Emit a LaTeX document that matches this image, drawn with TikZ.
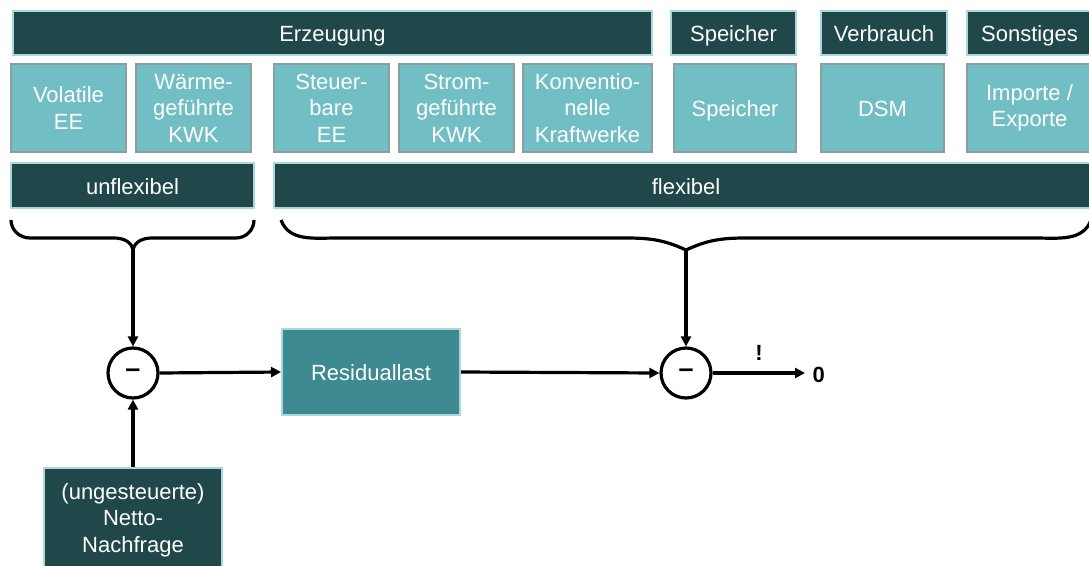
\documentclass[tikz,border=0pt]{standalone}
\usepackage{fontspec}
\setmainfont{Liberation Sans}
\usetikzlibrary{arrows.meta}
\definecolor{darkteal}{HTML}{20474A}
\definecolor{paleteal}{HTML}{A8D8DC}
\definecolor{lightteal}{HTML}{71BEC5}
\definecolor{greyedge}{HTML}{8C9EA0}
\definecolor{midteal}{HTML}{3D8A90}
\tikzset{
  box/.style={rectangle, line width=2pt, text=white, align=center, inner sep=0pt,
    font=\fontsize{22}{26.5}\selectfont},
  oneline/.style={text height=18.5pt, text depth=1pt},
  darkbox/.style={box, draw=paleteal, fill=darkteal},
  lightbox/.style={box, draw=greyedge, fill=lightteal},
  midbox/.style={box, draw=paleteal, fill=midteal},
  sumpoint/.style={circle, draw=black, line width=3.2pt, minimum size=50pt, inner sep=0pt,
    font=\fontsize{27}{27}\selectfont\bfseries},
  brace/.style={draw=black, line width=3.2pt},
  flow/.style={draw=black, line width=3.2pt, -{Triangle[length=10pt,width=10pt]}},
  head/.style={darkbox, oneline, minimum height=44pt},
  item/.style={lightbox, minimum height=88pt},
  group/.style={darkbox, oneline, minimum height=45pt}
}
\begin{document}
\begin{tikzpicture}[x=1pt,y=-1pt]
\useasboundingbox (0,0) rectangle (1089,565);
\clip (0,0) rectangle (1089,565);

% header row
\node[head, minimum width=639pt] (erz) at (332.5,33) {Erzeugung};
\node[head, minimum width=125pt] (spk) at (733.5,33) {Speicher};
\node[head, minimum width=126pt] (vbr) at (884,33) {Verbrauch};
\node[head, minimum width=125pt] (son) at (1029.5,33) {Sonstiges};

% technology row
\node[item, minimum width=115pt] (vee) at (68.5,108) {Volatile\\EE};
\node[item, minimum width=115pt] (wkwk) at (193.5,108) {Wärme-\\geführte\\KWK};
\node[item, minimum width=115pt] (see) at (331.5,108) {Steuer-\\bare\\EE};
\node[item, minimum width=115pt] (skwk) at (456.5,108) {Strom-\\geführte\\KWK};
\node[item, minimum width=129pt] (kkw) at (587.5,108) {Konventio-\\nelle\\Kraftwerke};
\node[item, oneline, minimum width=122pt] (sp) at (735,108) {Speicher};
\node[item, oneline, minimum width=123pt] (dsm) at (882.5,108) {DSM};
\node[item, minimum width=125pt] (imp) at (1029.5,108) {Importe /\\Exporte};

% flexibility row
\node[group, minimum width=243pt] (unf) at (132.5,185.5) {unflexibel};
\node[group, minimum width=824pt] (flx) at (686,185.5) {flexibel};

% braces
\coordinate (ltip) at (133,250);
\coordinate (rtip) at (686,250);
\draw[brace] (11,220) to[out=-90,in=180] (30,238) -- (114,238)
  to[out=0,in=100] (ltip) to[out=80,in=180] (152,238) -- (236,238)
  to[out=0,in=-90] (254,220);
\draw[brace] (281,220) to[out=-70,in=180] (337,238) -- (626,238)
  to[out=0,in=155] (rtip) to[out=25,in=180] (746,238) -- (1035,238)
  to[out=0,in=-110] (1091,220);

% balance
\node[sumpoint] (s1) at (133,373) {–};
\node[sumpoint] (s2) at (686,373) {–};
\node[midbox, oneline, minimum width=178pt, minimum height=86pt] (res) at (371,372) {Residuallast};
\node[darkbox, minimum width=178pt, minimum height=104pt] (nn) at (133,520)
  {(ungesteuerte)\\Netto-\\Nachfrage};
\coordinate (zero) at (805,373);
\node[font=\fontsize{22}{26}\selectfont\bfseries, anchor=west] (zl) at (809,375) {0};
\node[font=\fontsize{22}{26}\selectfont\bfseries] (ex) at (759,353) {!};

\draw[flow] (ltip) -- (s1.north);
\draw[flow] (nn.north) -- (s1.south);
\draw[flow] (s1.east) -- (res.west);
\draw[flow] (res.east) -- (s2.west);
\draw[flow] (rtip) -- (s2.north);
\draw[flow] (s2.east) -- (zero);
\end{tikzpicture}
\end{document}
